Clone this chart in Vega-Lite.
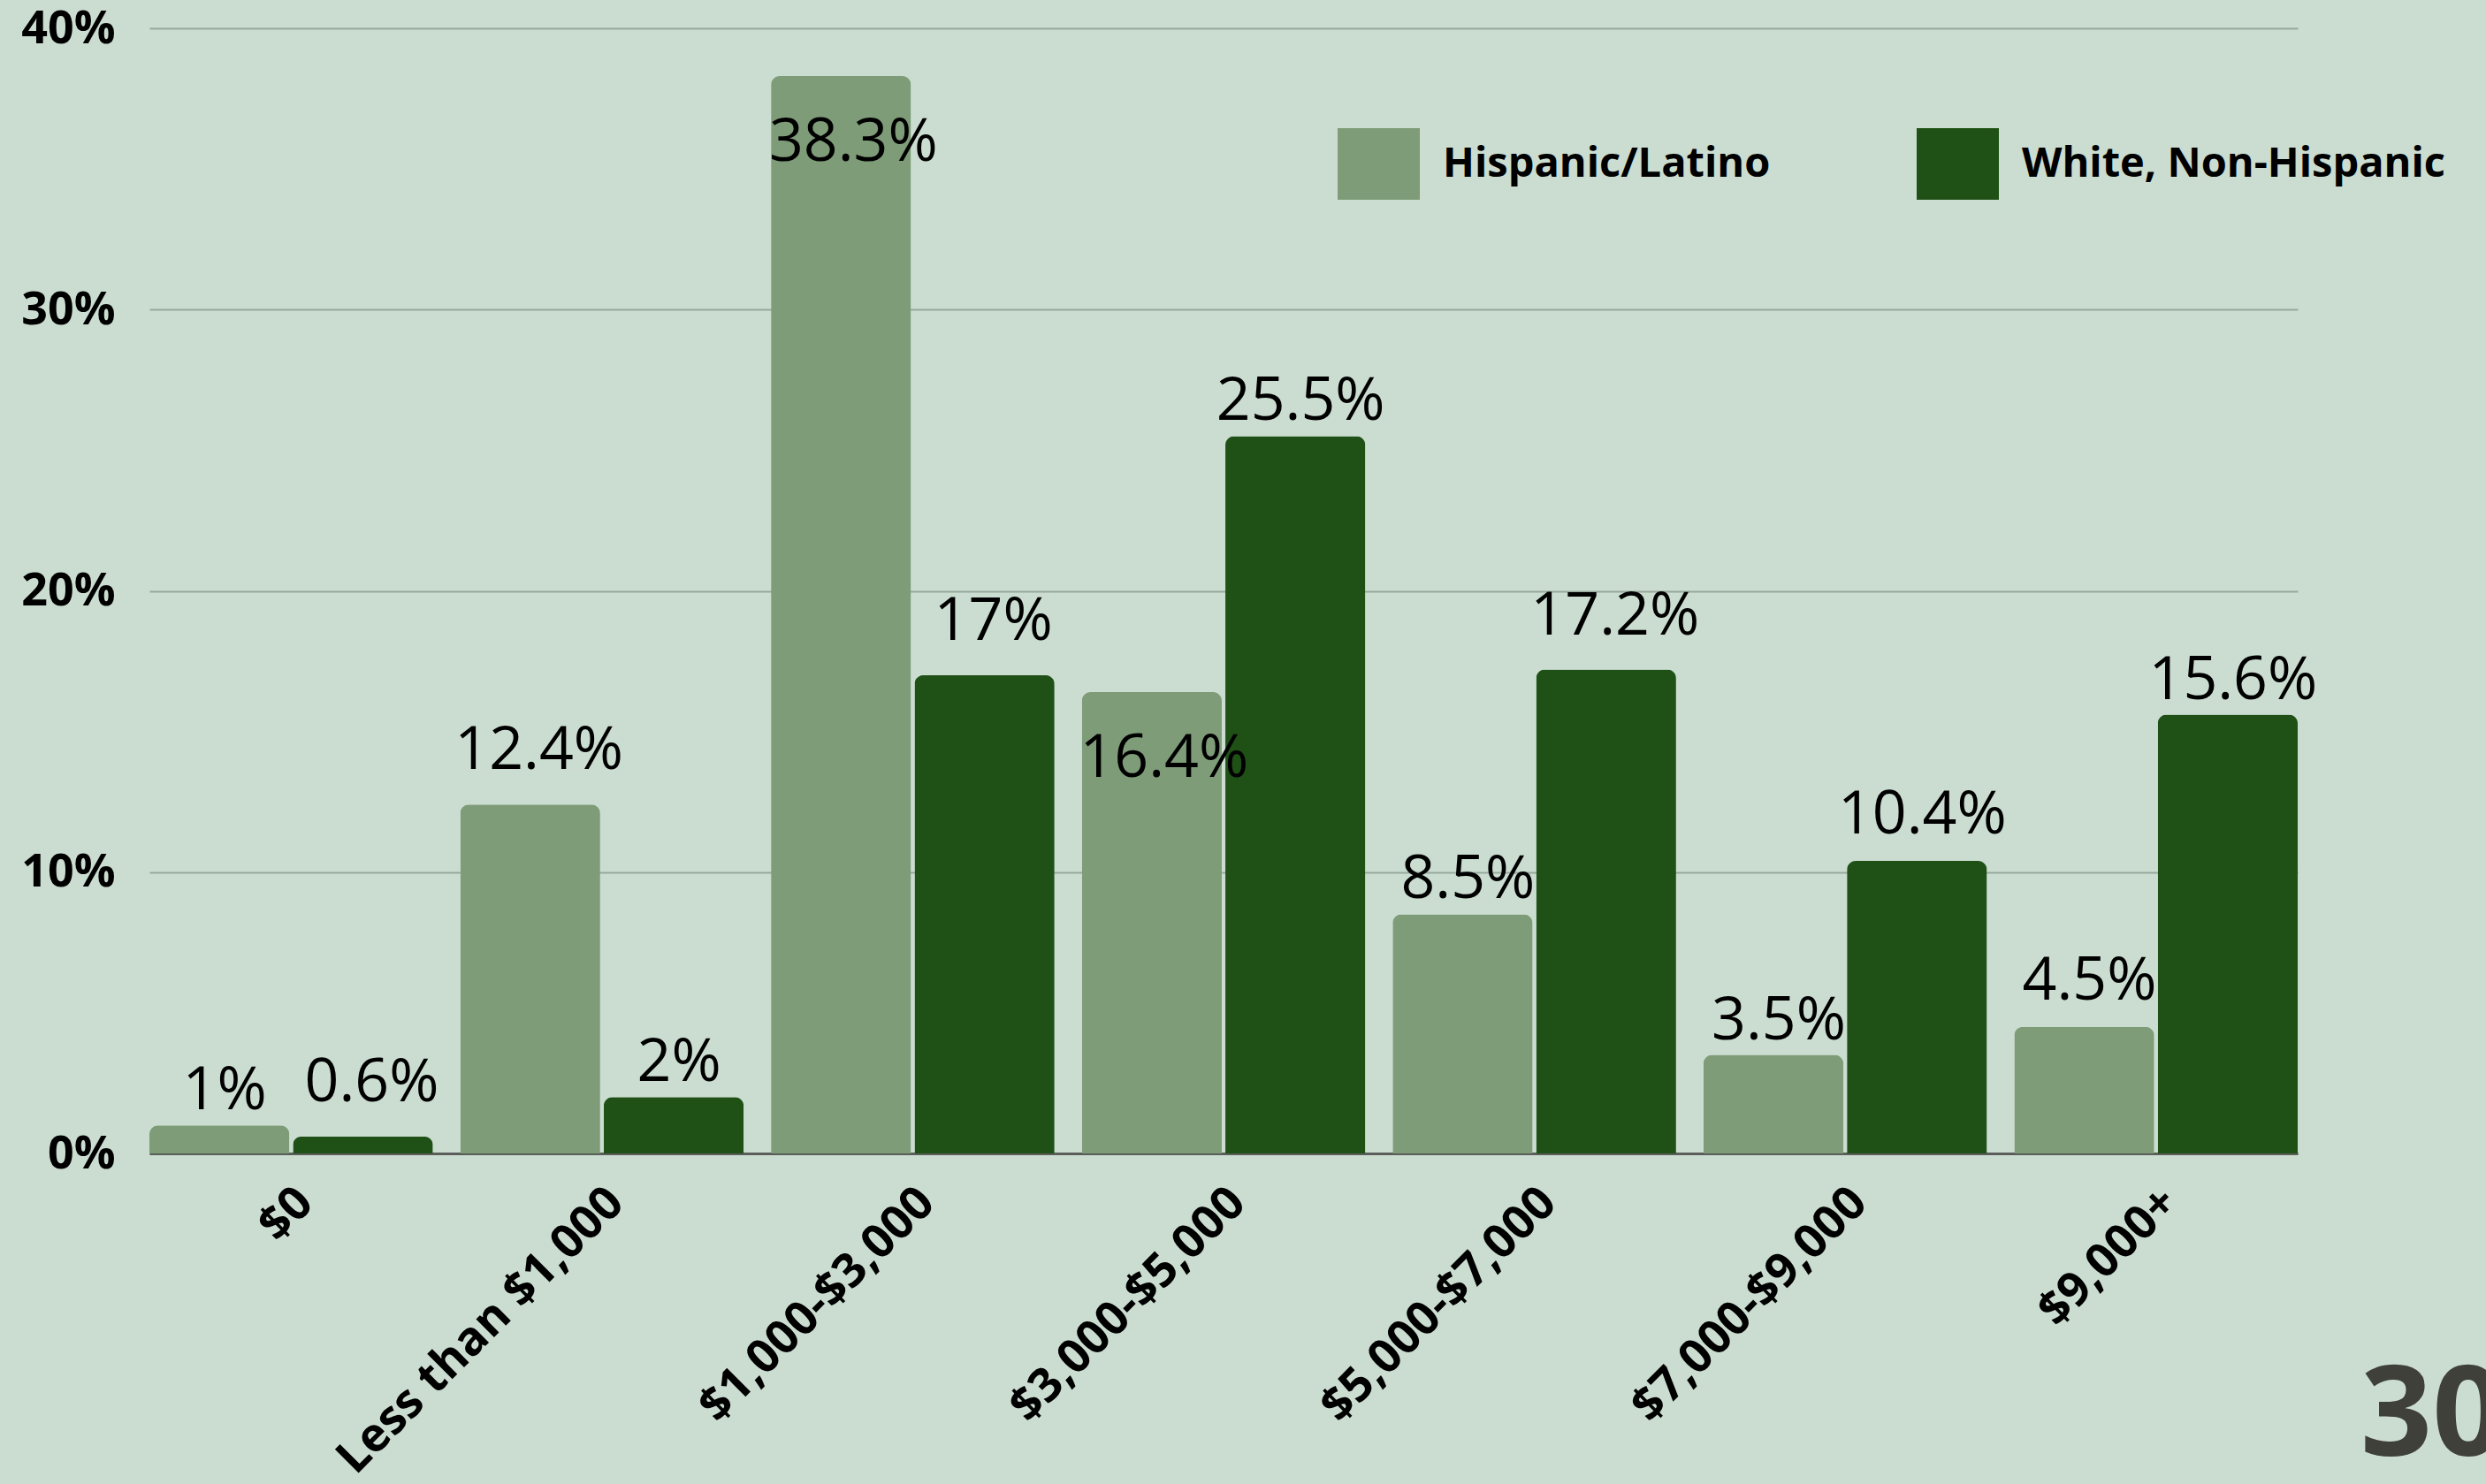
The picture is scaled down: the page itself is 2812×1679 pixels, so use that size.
{
  "$schema": "https://vega.github.io/schema/vega-lite/v6.json",
  "width": 2430,
  "height": 1273,
  "autosize": {"type": "none"},
  "padding": {"left": 169, "top": 32, "right": 213, "bottom": 374},
  "background": "#CBDDD1",
  "config": {"view": {"stroke": null}, "font": "Open Sans"},
  "title": {
    "text": "30",
    "orient": "bottom",
    "anchor": "end",
    "frame": "group",
    "align": "left",
    "dx": 71,
    "dy": -30,
    "offset": 0,
    "baseline": "alphabetic",
    "fontSize": 142,
    "fontWeight": "bold",
    "font": "Open Sans",
    "color": "#40403B"
  },
  "data": {
    "values": [
      {"bracket": "$0", "group": "Hispanic/Latino", "share": 0.01},
      {"bracket": "$0", "group": "White, Non-Hispanic", "share": 0.006},
      {"bracket": "Less than $1,000", "group": "Hispanic/Latino", "share": 0.124},
      {"bracket": "Less than $1,000", "group": "White, Non-Hispanic", "share": 0.02},
      {"bracket": "$1,000-$3,000", "group": "Hispanic/Latino", "share": 0.383},
      {"bracket": "$1,000-$3,000", "group": "White, Non-Hispanic", "share": 0.17},
      {"bracket": "$3,000-$5,000", "group": "Hispanic/Latino", "share": 0.164},
      {"bracket": "$3,000-$5,000", "group": "White, Non-Hispanic", "share": 0.255},
      {"bracket": "$5,000-$7,000", "group": "Hispanic/Latino", "share": 0.085},
      {"bracket": "$5,000-$7,000", "group": "White, Non-Hispanic", "share": 0.172},
      {"bracket": "$7,000-$9,000", "group": "Hispanic/Latino", "share": 0.035},
      {"bracket": "$7,000-$9,000", "group": "White, Non-Hispanic", "share": 0.104},
      {"bracket": "$9,000+", "group": "Hispanic/Latino", "share": 0.045},
      {"bracket": "$9,000+", "group": "White, Non-Hispanic", "share": 0.156}
    ]
  },
  "encoding": {
    "x": {
      "field": "bracket",
      "type": "nominal",
      "sort": ["$0", "Less than $1,000", "$1,000-$3,000", "$3,000-$5,000", "$5,000-$7,000", "$7,000-$9,000", "$9,000+"],
      "scale": {"paddingInner": 0.088, "paddingOuter": 0},
      "axis": {
        "title": null,
        "labelAngle": -45,
        "labelAlign": "right",
        "labelBaseline": "middle",
        "labelFontSize": 53,
        "labelFontWeight": "bold",
        "labelColor": "#000000",
        "labelPadding": 47,
        "labelOffset": 16,
        "labelLimit": 0,
        "ticks": false,
        "grid": false,
        "domainColor": "#5A5D59",
        "domainWidth": 3
      }
    },
    "xOffset": {
      "field": "group",
      "type": "nominal",
      "sort": ["Hispanic/Latino", "White, Non-Hispanic"],
      "scale": {"paddingInner": 0.025, "paddingOuter": 0}
    },
    "y": {
      "field": "share",
      "type": "quantitative",
      "scale": {"domain": [0, 0.4]},
      "axis": {
        "title": null,
        "format": "~%",
        "values": [0, 0.1, 0.2, 0.3, 0.4],
        "labelFontSize": 52,
        "labelFontWeight": "bold",
        "labelColor": "#000000",
        "labelPadding": 39,
        "ticks": false,
        "domain": false,
        "gridColor": "#97A79B",
        "gridWidth": 2
      }
    }
  },
  "layer": [
    {
      "mark": {"type": "bar", "cornerRadiusTopLeft": 10, "cornerRadiusTopRight": 10},
      "encoding": {
        "color": {
          "field": "group",
          "type": "nominal",
          "scale": {"domain": ["Hispanic/Latino", "White, Non-Hispanic"], "range": ["#7E9C78", "#1F5016"]},
          "legend": {
            "title": null,
            "orient": "none",
            "direction": "horizontal",
            "legendX": 1344,
            "legendY": 107,
            "padding": 0,
            "symbolType": "M-1,-0.87H1V0.87H-1Z",
            "symbolSize": 8649,
            "symbolOpacity": 1,
            "symbolStrokeWidth": 0,
            "labelFontSize": 47,
            "labelFontWeight": "bold",
            "labelColor": "#000000",
            "labelOffset": 26,
            "labelLimit": 0,
            "columnPadding": 165
          }
        }
      }
    },
    {
      "transform": [{"filter": "datum.share == 0.255 || datum.share == 0.156 || datum.share == 0.085 || datum.share == 0.035 || datum.share == 0.02 || datum.share == 0.01"}],
      "mark": {"type": "text", "baseline": "alphabetic", "dy": -18, "dx": 6, "fontSize": 68, "color": "#000000"},
      "encoding": {"text": {"field": "share", "type": "quantitative", "format": "~%"}}
    },
    {
      "transform": [{"filter": "datum.share == 0.104 || datum.share == 0.045"}],
      "mark": {"type": "text", "baseline": "alphabetic", "dy": -31, "dx": 6, "fontSize": 68, "color": "#000000"},
      "encoding": {"text": {"field": "share", "type": "quantitative", "format": "~%"}}
    },
    {
      "transform": [{"filter": "datum.share == 0.124 || datum.share == 0.17 || datum.share == 0.172 || datum.share == 0.006"}],
      "mark": {"type": "text", "baseline": "alphabetic", "dy": -40, "dx": 10, "fontSize": 68, "color": "#000000"},
      "encoding": {"text": {"field": "share", "type": "quantitative", "format": "~%"}}
    },
    {
      "transform": [{"filter": "datum.share == 0.383 || datum.share == 0.164"}],
      "mark": {"type": "text", "baseline": "alphabetic", "dy": 96, "dx": 14, "fontSize": 68, "color": "#000000"},
      "encoding": {"text": {"field": "share", "type": "quantitative", "format": "~%"}}
    }
  ]
}
